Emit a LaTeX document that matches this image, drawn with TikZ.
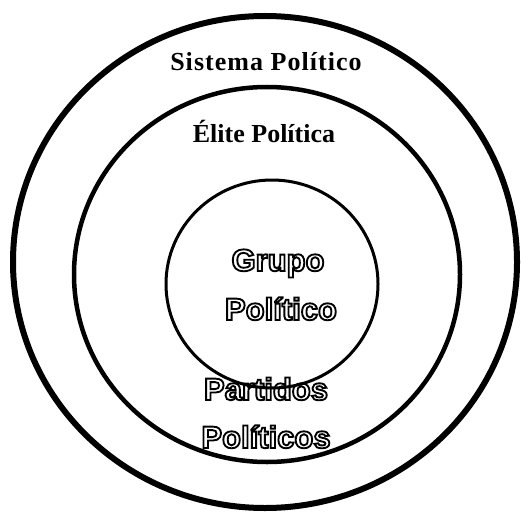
\documentclass[tikz,border=0pt]{standalone}
\usepackage{fontspec}
\setmainfont{Liberation Serif}
\newfontfamily\outlinefont[FakeBold=6]{Liberation Sans Bold}
\usetikzlibrary{positioning}

% white fill, black stroke for the hollow letters
\newcommand{\hollow}[1]{\special{pdf:bcolor [1] [0]}#1\special{pdf:ecolor}}

\begin{document}
\begin{tikzpicture}[
    x=1pt, y=-1pt,
    ring/.style={draw, line cap=round},
    title/.style={
        anchor=base,
        inner sep=0pt,
        font=\fontsize{26}{30}\selectfont\bfseries
    },
    hollowlabel/.style={
        anchor=base,
        inner sep=0pt,
        font=\fontsize{31}{36}\selectfont\outlinefont
    }
]

\useasboundingbox (0,0) rectangle (521,513);

\node[title] (sistema) at (266,70.5) {\addfontfeature{LetterSpace=4}Sistema Político};
\node[title] (elite) at (264,142.5) {Élite Política};

\node[hollowlabel] (grupo) at (278,271) {\hollow{Grupo}};
\node[hollowlabel] (grupoPol) at (281,320) {\hollow{Político}};

\node[hollowlabel] (partidos) at (266,400) {\hollow{Partidos}};
\node[hollowlabel] (partidosPol) at (266,448) {\hollow{Políticos}};

% the three rings, drawn over the labels
\draw[ring, line width=6pt] (265,262) ellipse [x radius=252pt, y radius=246pt];
\draw[ring, line width=4.5pt] (267,274.5) ellipse [x radius=193pt, y radius=187.5pt];
\draw[ring, line width=3pt] (272,284) ellipse [x radius=106pt, y radius=104pt];

\end{tikzpicture}
\end{document}
